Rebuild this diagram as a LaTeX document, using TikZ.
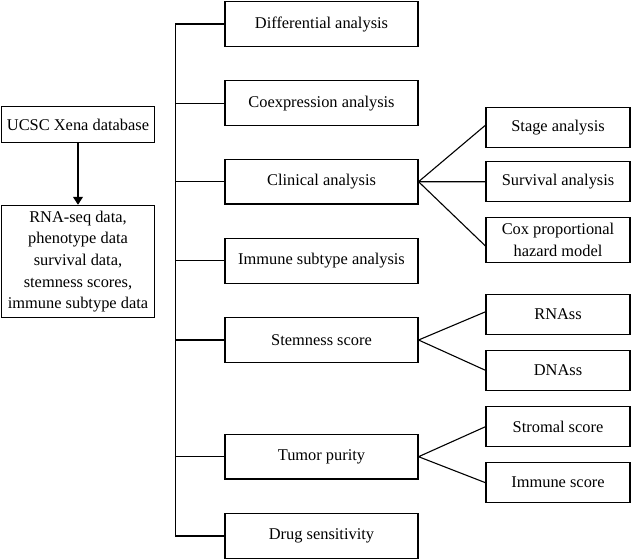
\documentclass[tikz,border=0pt]{standalone}
\usepackage{fontspec}
\setmainfont{Liberation Serif}
\usetikzlibrary{arrows.meta,calc}
\begin{document}
\begin{tikzpicture}[x=1pt,y=-1pt,
  box/.style={draw, line width=1.1pt, inner sep=0pt, align=center,
    font=\fontsize{16.4}{21.7}\selectfont},
  leftbox/.style={box, minimum width=152.5pt},
  midbox/.style={box, minimum width=193pt, minimum height=44.5pt},
  rightbox/.style={box, minimum width=144pt, minimum height=40pt},
  conn/.style={line width=1.1pt}]
\useasboundingbox (0,0) rectangle (631,559);
% left column
\node[leftbox, minimum height=35.3pt] (ucsc) at (78,124.4) {UCSC Xena database};
\node[leftbox, minimum height=112.4pt] (data) at (78,261.5) {RNA-seq data,\\phenotype data\\survival data,\\stemness scores,\\immune subtype data};
\draw[conn, -{Triangle[length=8pt,width=10pt]}] (ucsc) -- (data);
% middle column
\node[midbox] (diff) at (321.5,24) {Differential analysis};
\node[midbox] (coex) at (321.5,103.2) {Coexpression analysis};
\node[midbox] (clin) at (321.5,181.7) {Clinical analysis};
\node[midbox] (immsub) at (321.5,260.8) {Immune subtype analysis};
\node[midbox] (stem) at (321.5,340) {Stemness score};
\node[midbox] (tumor) at (321.5,456.7) {Tumor purity};
\node[midbox] (drug) at (321.5,536) {Drug sensitivity};
% bus
\coordinate (bus) at (175.7,0);
\draw[conn] (diff.west) -- (diff.west -| bus) |- (drug.west);
\foreach \n in {coex,clin,immsub,stem,tumor}
  \draw[conn] (\n.west) -- (\n.west -| bus);
% right column
\node[rightbox] (stage) at (558,127.7) {Stage analysis};
\node[rightbox] (surv) at (558,181.7) {Survival analysis};
\node[rightbox, minimum height=44.5pt] (cox) at (558,240) {Cox proportional\\hazard model};
\node[rightbox] (rnass) at (558,314.3) {RNAss};
\node[rightbox] (dnass) at (558,370.3) {DNAss};
\node[rightbox] (strom) at (558,426.7) {Stromal score};
\node[rightbox] (imsc) at (558,482.7) {Immune score};
% fans
\draw[conn] ($(stage.west)+(0,-2.5)$) -- (clin.east) -- (surv.west);
\draw[conn] (clin.east) -- ($(cox.west)+(0,6)$);
\draw[conn] ($(rnass.west)+(0,-2.5)$) -- (stem.east) -- (dnass.west);
\draw[conn] (strom.west) -- (tumor.east) -- (imsc.west);
\end{tikzpicture}
\end{document}
